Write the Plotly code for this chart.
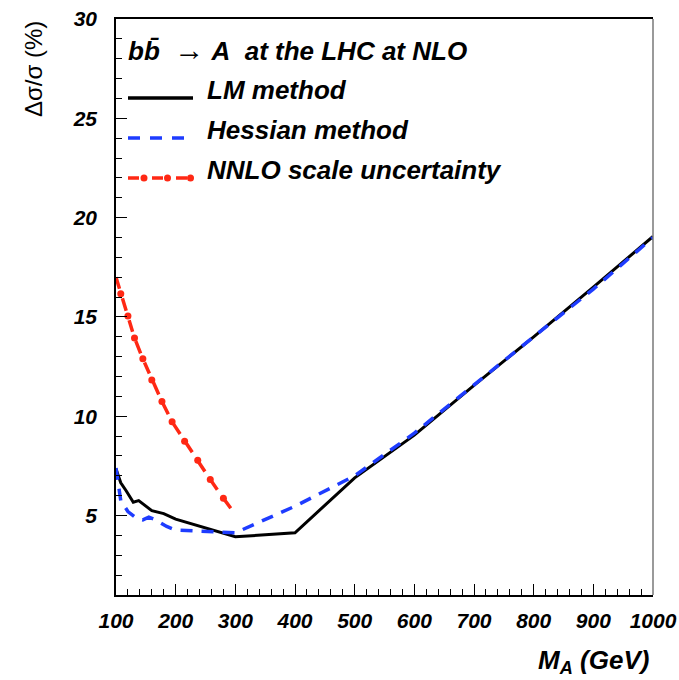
import plotly.graph_objects as go

# ---- data ----
lm_x = [100, 108, 117, 129, 138, 160, 180, 200, 300, 400, 500, 600, 700, 800, 900, 1000]
lm_y = [7.35, 6.65, 6.25, 5.67, 5.75, 5.25, 5.1, 4.82, 3.93, 4.13, 6.9, 9.05, 11.55, 14.0, 16.5, 19.05]

hess_x = [100, 108, 120, 135, 145, 155, 165, 185, 200, 250, 300, 400, 500, 600, 700, 800, 900, 1000]
hess_y = [7.4, 5.75, 5.2, 4.85, 4.78, 4.92, 4.8, 4.45, 4.27, 4.2, 4.13, 5.47, 7.0, 9.15, 11.6, 14.0, 16.4, 19.0]

nnlo_x = [100, 108, 120, 131, 145, 160, 177, 194, 215, 237, 258, 280, 300]
nnlo_y = [17.0, 16.17, 15.05, 13.94, 12.89, 11.83, 10.74, 9.72, 8.74, 7.78, 6.81, 5.87, 5.05]

x_ticks = [100, 200, 300, 400, 500, 600, 700, 800, 900, 1000]
y_ticks = [5, 10, 15, 20, 25, 30]

BLACK = "black"
BLUE = "rgb(30,60,255)"
RED = "rgb(255,40,20)"
FONT = "Liberation Sans, Arial, sans-serif"

fig = go.Figure()
fig.add_trace(go.Scatter(x=lm_x, y=lm_y, mode="lines",
                         line=dict(color=BLACK, width=3), showlegend=False))
fig.add_trace(go.Scatter(x=hess_x, y=hess_y, mode="lines",
                         line=dict(color=BLUE, width=3.5, dash="12px,9px"), showlegend=False))
fig.add_trace(go.Scatter(x=nnlo_x, y=nnlo_y, mode="lines",
                         line=dict(color=RED, width=3.5, dash="12px,10px,13px,10px"), showlegend=False))
fig.add_trace(go.Scatter(x=nnlo_x[1:-1], y=nnlo_y[1:-1], mode="markers",
                         marker=dict(color=RED, size=7, line=dict(width=0)), showlegend=False))

tickfont = dict(family=FONT, size=21, color="black", weight="bold", style="italic")

fig.update_xaxes(range=[100, 1000], tickvals=x_ticks, ticktext=[str(v) for v in x_ticks],
                 ticks="inside", ticklen=11, tickwidth=1.3, tickcolor="black",
                 minor=dict(dtick=20, tick0=100, ticks="inside", ticklen=6, tickwidth=1.2, tickcolor="black"),
                 showline=True, linecolor="black", linewidth=1.5, mirror=True,
                 showgrid=False, zeroline=False, tickfont=tickfont, ticklabelstandoff=6)
fig.update_yaxes(range=[1, 30], tickvals=y_ticks, ticktext=[str(v) for v in y_ticks],
                 ticks="inside", ticklen=11, tickwidth=1.3, tickcolor="black",
                 minor=dict(dtick=1, tick0=0, ticks="inside", ticklen=6, tickwidth=1.2, tickcolor="black"),
                 showline=True, linecolor="black", linewidth=1.5, mirror=False,
                 showgrid=False, zeroline=False, tickfont=tickfont, ticklabelstandoff=13)

W, H = 679, 680
L, R, T, B = 116, 26, 19, 85
pw, ph = W - L - R, H - T - B


def px(xp):
    return (xp - L) / pw


def py(yp):
    return (H - B - yp) / ph


shapes = []
# right frame in grey
shapes.append(dict(type="line", xref="paper", yref="paper", x0=1, x1=1, y0=0, y1=1,
                   line=dict(color="rgb(120,120,120)", width=1.5)))
# legend samples
lx0, lx1 = px(128), px(193)
shapes.append(dict(type="line", xref="paper", yref="paper", x0=lx0, x1=lx1, y0=py(98), y1=py(98),
                   line=dict(color=BLACK, width=3.5)))
shapes.append(dict(type="line", xref="paper", yref="paper", x0=lx0, x1=px(187), y0=py(138), y1=py(138),
                   line=dict(color=BLUE, width=3.5, dash="12px,10px")))
shapes.append(dict(type="line", xref="paper", yref="paper", x0=lx0, x1=lx1, y0=py(178), y1=py(178),
                   line=dict(color=RED, width=3.5, dash="11px,13px")))
for cx in (144, 167.5, 190.5):
    shapes.append(dict(type="circle", xref="paper", yref="paper", xsizemode="pixel", ysizemode="pixel",
                       xanchor=px(cx), yanchor=py(178), x0=-3.5, x1=3.5, y0=-3.5, y1=3.5,
                       fillcolor=RED, line=dict(width=0)))

lfont = dict(family=FONT, size=26, color="black", weight="bold", style="italic")
NB = "\u00a0"
arrow = ("<span style=\"font-family:'Liberation Serif';font-weight:normal;font-style:normal;"
         "font-size:30px\">\u2192</span>")
annotations = [
    dict(text="bb\u0304" + NB + NB + arrow + NB + "A" + NB + NB + "at the LHC at NLO",
         xref="paper", yref="paper", x=px(126), y=py(50), xanchor="left", yanchor="middle",
         showarrow=False, font=lfont),
    dict(text="LM method", xref="paper", yref="paper", x=px(205), y=py(90), xanchor="left",
         yanchor="middle", showarrow=False, font=lfont),
    dict(text="Hessian method", xref="paper", yref="paper", x=px(205), y=py(130), xanchor="left",
         yanchor="middle", showarrow=False, font=lfont),
    dict(text="NNLO scale uncertainty", xref="paper", yref="paper", x=px(205), y=py(170), xanchor="left",
         yanchor="middle", showarrow=False, font=lfont),
    dict(text="M<sub>A</sub> (GeV)", xref="paper", yref="paper", x=px(651), y=py(661), xanchor="right",
         yanchor="middle", showarrow=False, font=dict(family=FONT, size=26, color="black",
                                                       weight="bold", style="italic")),
    dict(text="\u0394\u03c3/\u03c3 (%)", xref="paper", yref="paper", x=px(33), y=py(19), xanchor="center",
         yanchor="top", textangle=-90, showarrow=False,
         font=dict(family=FONT, size=24, color="black")),
]

fig.update_layout(width=W, height=H, margin=dict(l=L, r=R, t=T, b=B, autoexpand=False),
                  plot_bgcolor="white", paper_bgcolor="white",
                  shapes=shapes, annotations=annotations, showlegend=False)

fig.write_html("out.html")
